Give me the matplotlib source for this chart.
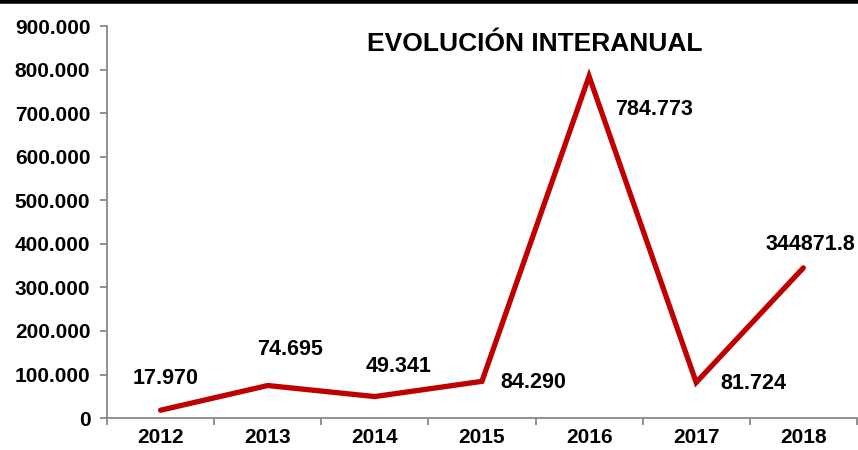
import matplotlib.pyplot as plt
from matplotlib.lines import Line2D

plt.rcParams['font.family'] = ['Liberation Sans', 'DejaVu Sans']
plt.rcParams['font.weight'] = 'bold'

# datos
years = ['2012', '2013', '2014', '2015', '2016', '2017', '2018']
values = [17970, 74695, 49341, 84290, 784773, 81724, 344871.8]
labels = ['17.970', '74.695', '49.341', '84.290', '784.773', '81.724', '344871.8']
# desplazamiento de etiquetas (puntos)
offsets = [(4, 23), (16, 26), (17, 22), (37, -1), (47, -24), (41, -1), (5, 17)]

fig = plt.figure(figsize=(8.58, 4.5), dpi=100)
ax = fig.add_axes([0.1247, 0.071, 0.874, 0.871])

x = list(range(len(years)))
ax.plot(x, values, color='#C00000', linewidth=3.8, solid_capstyle='round', solid_joinstyle='miter')

for xi, v, lab, off in zip(x, values, labels, offsets):
    ax.annotate(lab, (xi, v), xytext=off, textcoords='offset points',
                ha='center', va='center', fontsize=15.5, fontweight='bold')

ax.set_xlim(-0.5, len(years) - 0.5)
ax.set_ylim(0, 900000)
ax.set_yticks(range(0, 900001, 100000))
ax.set_yticklabels(['0' if t == 0 else f'{t // 1000}.000' for t in range(0, 900001, 100000)])
ax.set_xticks(x)
ax.set_xticklabels(years)
ax.set_xticks([i - 0.5 for i in range(len(years) + 1)], minor=True)
ax.tick_params(axis='x', which='major', length=0, labelsize=15, pad=7)
ax.tick_params(axis='x', which='minor', length=5, color='#888888', width=1.3)
ax.tick_params(axis='y', length=5, color='#888888', width=1.3, labelsize=15, pad=7)

for s in ['top', 'right']:
    ax.spines[s].set_visible(False)
for s in ['left', 'bottom']:
    ax.spines[s].set_color('#888888')
    ax.spines[s].set_linewidth(1.3)

ax.text(0.571, 0.954, 'EVOLUCIÓN INTERANUAL', transform=ax.transAxes,
        ha='center', va='center', fontsize=19, fontweight='bold')

# barra negra arriba
fig.add_artist(Line2D([0, 1], [0.997, 0.997], color='black', linewidth=4, transform=fig.transFigure))

fig.savefig('out.png', dpi=100)
